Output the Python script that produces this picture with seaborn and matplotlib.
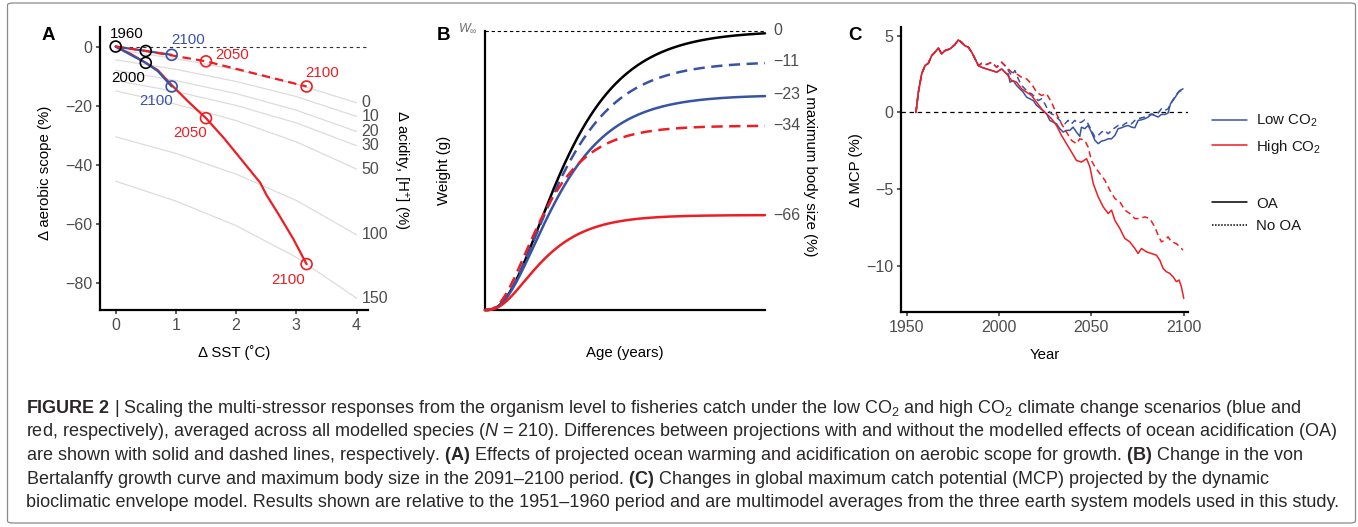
import numpy as np
import pandas as pd
import matplotlib
matplotlib.use("Agg")
import matplotlib.pyplot as plt
import seaborn as sns
from matplotlib.lines import Line2D
from matplotlib.patches import FancyBboxPatch

# ---------------------------------------------------------------- data
# Panel A : aerobic scope vs warming, acidity contours
a_contour_labels = ["0", "10", "20", "30", "50", "100", "150"]
a_contour_x = [0, 1, 2, 3, 4]
a_contour_0 = [-1.0, -4.1, -7.8, -12.7, -19.0]
a_contour_10 = [-4.5, -7.7, -11.8, -16.9, -23.6]
a_contour_20 = [-8.0, -11.5, -15.9, -21.5, -28.7]
a_contour_30 = [-11.5, -15.2, -19.9, -25.8, -33.5]
a_contour_50 = [-15.0, -19.5, -25.0, -32.2, -41.4]
a_contour_100 = [-30.5, -36.1, -43.1, -52.0, -63.6]
a_contour_150 = [-45.5, -52.2, -60.5, -71.2, -85.0]

a_low_oa_sst = [0, 0.25, 0.5, 0.7, 0.93]
a_low_oa_as = [0, -2.8, -5.5, -8.3, -13.5]
a_low_noa_sst = [0, 0.5, 0.93]
a_low_noa_as = [0, -1.5, -2.8]
a_high_oa_sst = [0, 0.25, 0.5, 0.7, 0.93, 1.2, 1.5, 1.8, 2.1, 2.4, 2.5, 2.7, 2.95, 3.17]
a_high_oa_as = [0, -2.5, -5.5, -8.0, -13.0, -18.5, -24.2, -31.0, -38.5, -46.0, -50.0, -56.5, -65.0, -73.5]
a_high_noa_sst = [0, 0.5, 0.93, 1.5, 3.17]
a_high_noa_as = [0, -1.5, -3.0, -5.0, -13.5]

a_hist_pts_sst = [0, 0.5, 0.5]
a_hist_pts_as = [0, -1.5, -5.5]
a_low_pts_sst = [0.93, 0.93]
a_low_pts_as = [-2.8, -13.5]
a_high_pts_sst = [1.5, 3.17, 1.5, 3.17]
a_high_pts_as = [-5.0, -13.5, -24.2, -73.5]

# Panel B : von Bertalanffy growth, change in maximum body size (%)
b_size_change = [0, -11, -23, -34, -66]
b_size_labels = ["0", "\u221211", "\u221223", "\u221234", "\u221266"]
b_growth_k = [0.577, 0.61, 0.632, 0.78, 0.79]

# Panel C : change in maximum catch potential (%)
c_hist_years = [1955.0, 1956.3, 1958.1, 1959.9, 1961.7, 1963.5, 1965.3, 1967.1, 1968.9,
                1970.7, 1973.4, 1976.1, 1977.9, 1979.7, 1981.5, 1983.4, 1985.2, 1987.0, 1988.8]
c_hist_mcp = [0.0, 1.32, 2.52, 3.06, 3.21, 3.71, 3.93, 4.21, 3.82,
              4.04, 4.15, 4.43, 4.73, 4.58, 4.36, 4.26, 3.93, 3.50, 3.06]
c_hist_oa_years = [1990.6, 1993.3, 1996.0, 1998.7, 2001.4, 2004.1]
c_hist_oa_mcp = [2.95, 2.84, 2.74, 2.63, 2.84, 2.52]
c_hist_noa_years = [1990.6, 1993.3, 1996.0, 1998.7, 2001.4, 2004.1]
c_hist_noa_mcp = [3.21, 3.13, 3.28, 2.95, 3.28, 2.95]

c_high_oa_years = [2006.8, 2009.5, 2012.2, 2014.9, 2017.6, 2020.3, 2023.0, 2025.7, 2028.4, 2031.1,
                   2033.8, 2036.5, 2039.2, 2041.9, 2044.6, 2047.4, 2049.2, 2051.0, 2053.7, 2056.4,
                   2059.1, 2060.9, 2062.7, 2065.4, 2068.1, 2070.8, 2073.5, 2075.3, 2077.1, 2079.8,
                   2082.5, 2085.2, 2087.0, 2088.8, 2090.6, 2092.4, 2094.2, 2096.0, 2097.5, 2098.7, 2100.0]
c_high_oa_mcp = [2.08, 1.98, 1.54, 1.32, 1.11, 0.67, 0.24, -0.09, -0.41, -0.85,
                 -1.50, -2.04, -2.58, -3.13, -3.24, -3.02, -3.56, -4.65, -5.52, -6.17,
                 -6.60, -6.38, -7.04, -7.58, -8.23, -8.45, -8.88, -9.21, -8.88, -9.10,
                 -9.21, -9.32, -9.64, -10.18, -10.40, -10.51, -10.73, -11.05, -10.94, -11.38, -12.14]
c_high_noa_years = [2006.8, 2009.5, 2012.2, 2014.9, 2017.6, 2020.3, 2023.0, 2025.7, 2028.4, 2031.1,
                    2033.8, 2036.5, 2039.2, 2041.9, 2043.7, 2046.4, 2048.2, 2050.0, 2051.9, 2054.6,
                    2057.3, 2060.0, 2062.7, 2065.4, 2068.1, 2070.8, 2073.5, 2076.2, 2078.9, 2081.6,
                    2084.3, 2086.1, 2087.9, 2089.7, 2091.5, 2093.3, 2096.0, 2097.8, 2099.6]
c_high_noa_mcp = [2.63, 2.52, 2.30, 2.19, 1.87, 1.32, 1.11, 1.22, 0.67, -0.09,
                  -0.74, -1.28, -1.82, -2.04, -1.72, -1.82, -2.26, -3.13, -3.56, -4.00,
                  -4.43, -5.08, -5.62, -5.84, -6.38, -6.60, -6.93, -6.93, -6.82, -6.93,
                  -7.47, -8.01, -8.45, -8.34, -8.12, -8.45, -8.56, -8.77, -8.99]
c_low_oa_years = [2005.0, 2005.9, 2007.7, 2009.5, 2011.3, 2013.1, 2014.9, 2016.7, 2018.5, 2020.3,
                  2022.1, 2023.9, 2025.7, 2027.5, 2029.3, 2031.1, 2032.9, 2034.7, 2036.5, 2038.3,
                  2040.1, 2041.9, 2043.7, 2044.6, 2046.4, 2048.2, 2050.0, 2051.9, 2053.7, 2055.5,
                  2057.3, 2059.1, 2060.9, 2062.7, 2064.5, 2066.3, 2068.1, 2069.9, 2071.7, 2073.5,
                  2075.3, 2077.1, 2078.9, 2080.7, 2082.5, 2084.3, 2086.1, 2087.9, 2089.7, 2091.5,
                  2092.8, 2094.2, 2096.0, 2097.8, 2099.6]
c_low_oa_mcp = [2.52, 1.98, 2.08, 1.76, 1.54, 1.32, 1.00, 0.89, 0.78, 0.46,
                0.30, 0.09, -0.09, -0.52, -0.63, -0.74, -1.06, -1.28, -1.17, -1.17,
                -0.96, -1.28, -1.56, -0.96, -1.06, -0.85, -1.28, -1.82, -2.04, -1.87,
                -1.82, -1.72, -1.72, -1.50, -1.06, -1.00, -0.91, -0.85, -0.96, -1.00,
                -0.52, -0.48, -0.41, -0.30, -0.13, -0.20, -0.30, -0.13, -0.13, -0.04,
                0.56, 0.78, 1.11, 1.43, 1.54]
c_low_noa_years = [2005.0, 2006.8, 2008.6, 2010.4, 2012.2, 2014.0, 2015.8, 2017.6, 2019.4, 2021.2,
                   2023.0, 2024.8, 2026.6, 2028.4, 2030.2, 2032.0, 2033.8, 2035.6, 2037.4, 2039.2,
                   2041.0, 2042.8, 2044.6, 2046.4, 2048.2, 2050.0, 2051.9, 2053.7, 2055.5, 2057.3,
                   2059.1, 2060.9, 2062.7, 2064.5, 2066.3, 2068.1, 2069.9, 2071.7, 2073.5, 2075.3,
                   2077.1, 2078.9, 2080.7, 2082.5, 2084.3, 2086.1, 2087.9, 2089.7, 2091.5, 2093.3,
                   2095.1, 2096.9, 2098.7]
c_low_noa_mcp = [2.74, 2.41, 2.74, 2.19, 1.76, 1.54, 1.32, 1.22, 1.00, 0.78,
                 0.89, 0.56, 0.13, -0.09, -0.20, -0.41, -0.63, -0.74, -0.52, -0.74,
                 -0.52, -0.69, -0.63, -0.48, -0.74, -1.17, -1.61, -1.50, -1.28, -1.17,
                 -1.39, -1.17, -1.00, -0.85, -0.91, -0.74, -0.63, -0.74, -0.52, -0.41,
                 -0.35, -0.30, -0.20, -0.09, -0.15, -0.04, 0.24, 0.13, 0.24, 0.67,
                 1.00, 1.32, 1.43]

caption_lines = [
    r"$\mathbf{FIGURE\ 2}$ | Scaling the multi-stressor responses from the organism level to fisheries catch under the low CO$_2$ and high CO$_2$ climate change scenarios (blue and",
    r"red, respectively), averaged across all modelled species ($\mathit{N}$ = 210). Differences between projections with and without the modelled effects of ocean acidification (OA)",
    r"are shown with solid and dashed lines, respectively. $\mathbf{(A)}$ Effects of projected ocean warming and acidification on aerobic scope for growth. $\mathbf{(B)}$ Change in the von",
    r"Bertalanffy growth curve and maximum body size in the 2091–2100 period. $\mathbf{(C)}$ Changes in global maximum catch potential (MCP) projected by the dynamic",
    r"bioclimatic envelope model. Results shown are relative to the 1951–1960 period and are multimodel averages from the three earth system models used in this study.",
]

# ---------------------------------------------------------------- style
sns.set_theme(style="ticks")
plt.rcParams["font.family"] = ["Liberation Sans", "DejaVu Sans"]
plt.rcParams["mathtext.fontset"] = "custom"
plt.rcParams["mathtext.rm"] = "Liberation Sans"
plt.rcParams["mathtext.it"] = "Liberation Sans:italic"
plt.rcParams["mathtext.bf"] = "Liberation Sans:bold"
plt.rcParams["mathtext.default"] = "regular"
plt.rcParams["axes.unicode_minus"] = True

BLUE = "#3953A4"
RED = "#EE1D23"
GRID = "#DCDCDC"
TICKC = "#4D4D4D"
FS = 10.8
TFS = 11.5

W, H = 1358, 527
fig = plt.figure(figsize=(W / 100, H / 100), dpi=100)
fig.patch.set_facecolor("white")


def rect(l, t, r, b):
    return [l / W, 1 - b / H, (r - l) / W, (b - t) / H]


def style_axes(ax, ticks=True):
    for s in ["top", "right"]:
        ax.spines[s].set_visible(False)
    for s in ["left", "bottom"]:
        ax.spines[s].set_linewidth(1.6)
        ax.spines[s].set_color("black")
    ax.set_facecolor("none")
    if ticks:
        ax.tick_params(direction="out", length=3.2, width=1.1, color="#333333",
                       labelsize=TFS, labelcolor=TICKC, pad=2.5)
    else:
        ax.set_xticks([])
        ax.set_yticks([])


axA = fig.add_axes(rect(100, 27, 368, 310))
axB = fig.add_axes(rect(485, 30.7, 765, 310))
axC = fig.add_axes(rect(901, 26.7, 1188, 312.3))

# ---------------------------------------------------------------- Panel A
axA.set_xlim(-0.26, 4.19)
axA.set_ylim(-89, 6.6)
contours = [a_contour_0, a_contour_10, a_contour_20, a_contour_30,
            a_contour_50, a_contour_100, a_contour_150]
for lab, vals in zip(a_contour_labels, contours):
    sns.lineplot(x=a_contour_x, y=vals, ax=axA, color=GRID, linewidth=0.9,
                 estimator=None, sort=False, zorder=1)
    axA.annotate(lab, xy=(a_contour_x[-1], vals[-1]), xytext=(5, 0),
                 textcoords="offset pixels", ha="left", va="center",
                 fontsize=TFS, color=TICKC, annotation_clip=False)

x0, x1 = axA.get_xlim()
axA.axhline(0, xmin=(0 - x0) / (x1 - x0), xmax=1, color="#333333", lw=0.8,
            ls=(0, (3, 3)), zorder=2)

dash_a = (0, (3.8, 2.3))
sns.lineplot(x=a_high_oa_sst, y=a_high_oa_as, ax=axA, color=RED, linewidth=1.6,
             estimator=None, sort=False, zorder=3)
sns.lineplot(x=a_low_oa_sst, y=a_low_oa_as, ax=axA, color=BLUE, linewidth=1.6,
             estimator=None, sort=False, zorder=3)
sns.lineplot(x=a_low_noa_sst, y=a_low_noa_as, ax=axA, color=BLUE, linewidth=1.6,
             estimator=None, sort=False, zorder=3)
sns.lineplot(x=a_high_noa_sst, y=a_high_noa_as, ax=axA, color=RED, linewidth=1.6,
             linestyle=dash_a, estimator=None, sort=False, zorder=3)

for xs, ys, c in [(a_hist_pts_sst, a_hist_pts_as, "black"),
                  (a_low_pts_sst, a_low_pts_as, BLUE),
                  (a_high_pts_sst, a_high_pts_as, RED)]:
    sns.scatterplot(x=xs, y=ys, ax=axA, color=c, facecolor="none", edgecolor=c,
                    s=62, linewidth=1.2, zorder=5, clip_on=False)

point_labels = [
    ("1960", a_hist_pts_sst[0], a_hist_pts_as[0], (11, 13), "black"),
    ("2000", a_hist_pts_sst[2], a_hist_pts_as[2], (-18, -15), "black"),
    ("2100", a_low_pts_sst[0], a_low_pts_as[0], (16, 15), BLUE),
    ("2100", a_low_pts_sst[1], a_low_pts_as[1], (-16, -14), BLUE),
    ("2050", a_high_pts_sst[0], a_high_pts_as[0], (26, 6), RED),
    ("2100", a_high_pts_sst[1], a_high_pts_as[1], (16, 14), RED),
    ("2050", a_high_pts_sst[2], a_high_pts_as[2], (-16, -15), RED),
    ("2100", a_high_pts_sst[3], a_high_pts_as[3], (-18, -16), RED),
]
for txt, x, y, off, c in point_labels:
    axA.annotate(txt, xy=(x, y), xytext=off, textcoords="offset pixels",
                 ha="center", va="center", fontsize=FS, color=c, zorder=6)

axA.set_xticks([0, 1, 2, 3, 4])
axA.set_yticks([0, -20, -40, -60, -80])
style_axes(axA)
axA.set_xlabel("\u0394 SST (\u02daC)", fontsize=FS, color="black")
axA.set_ylabel("\u0394 aerobic scope (%)", fontsize=FS, color="black")
axA.xaxis.set_label_coords(0.5, (310 - 353) / 283)
axA.xaxis.label.set_va("center")
axA.yaxis.set_label_coords((45 - 100) / 268, (310 - 173) / 283)
axA.yaxis.label.set_va("center")
axA.text((400 - 100) / 268, (310 - 170) / 283, "\u0394 acidity, [H$^{+}$] (%)",
         transform=axA.transAxes, rotation=270, ha="center", va="center",
         fontsize=FS, color="black")

# ---------------------------------------------------------------- Panel B
axB.set_xlim(0, 10)
axB.set_ylim(0, 1)
age = np.linspace(0, 10, 400)
b_colors = ["black", BLUE, BLUE, RED, RED]
b_dashed = [False, True, False, True, False]
dash_b = (0, (4.5, 2.6))
for chg, k, c, d, lab in zip(b_size_change, b_growth_k, b_colors, b_dashed, b_size_labels):
    winf = 1 + chg / 100.0
    weight = winf * (1 - np.exp(-k * age)) ** 3
    sns.lineplot(x=age, y=weight, ax=axB, color=c, linewidth=1.8,
                 linestyle=dash_b if d else "-", estimator=None, sort=False,
                 zorder=3, clip_on=False)
    axB.annotate(lab, xy=(10, winf), xytext=(8, 0), textcoords="offset pixels",
                 ha="left", va="center", fontsize=TFS, color=TICKC,
                 annotation_clip=False)
axB.axhline(1, color="black", lw=0.8, ls=(0, (3, 2.5)), clip_on=False, zorder=2)
axB.annotate(r"$\mathit{W}_{\infty}$", xy=(0, 1), xytext=(-7, 2), textcoords="offset pixels",
             ha="right", va="center", fontsize=9, color="#6D6D6D",
             annotation_clip=False)
style_axes(axB, ticks=False)
axB.set_xlabel("Age (years)", fontsize=FS, color="black")
axB.set_ylabel("Weight (g)", fontsize=FS, color="black")
axB.xaxis.set_label_coords(0.5, (310 - 353) / 279.3)
axB.xaxis.label.set_va("center")
axB.yaxis.set_label_coords((444 - 485) / 280, (310 - 170) / 279.3)
axB.yaxis.label.set_va("center")
axB.text((810 - 485) / 280, (310 - 170) / 279.3, "\u0394 maximum body size (%)",
         transform=axB.transAxes, rotation=270, ha="center", va="center",
         fontsize=FS, color="black")

# ---------------------------------------------------------------- Panel C
axC.set_xlim(1946.9, 2102.3)
axC.set_ylim(-13.05, 5.6)
axC.axhline(0, color="black", lw=0.9, ls=(0, (3.5, 3)), zorder=1)

hist_oa_y = c_hist_years + c_hist_oa_years
hist_oa_v = c_hist_mcp + c_hist_oa_mcp
hist_noa_y = c_hist_years + c_hist_noa_years
hist_noa_v = c_hist_mcp + c_hist_noa_mcp
dash_c = (0, (4, 2.6))
series = [
    (hist_noa_y + c_low_noa_years, hist_noa_v + c_low_noa_mcp, BLUE, dash_c),
    (hist_oa_y + c_low_oa_years, hist_oa_v + c_low_oa_mcp, BLUE, "-"),
    (hist_noa_y + c_high_noa_years, hist_noa_v + c_high_noa_mcp, RED, dash_c),
    (hist_oa_y + c_high_oa_years, hist_oa_v + c_high_oa_mcp, RED, "-"),
]
for yrs, vals, c, ls in series:
    df = pd.DataFrame({"Year": yrs, "MCP": vals})
    sns.lineplot(data=df, x="Year", y="MCP", ax=axC, color=c, linewidth=1.1,
                 linestyle=ls, estimator=None, sort=False, zorder=3)

axC.set_xticks([1950, 2000, 2050, 2100])
axC.set_yticks([5, 0, -5, -10])
style_axes(axC)
axC.set_xlabel("Year", fontsize=FS, color="black")
axC.set_ylabel("\u0394 MCP (%)", fontsize=FS, color="black")
axC.xaxis.set_label_coords((1045 - 901) / 287, (312.3 - 355) / 285.6)
axC.xaxis.label.set_va("center")
axC.yaxis.set_label_coords((856 - 901) / 287, (312.3 - 170) / 285.6)
axC.yaxis.label.set_va("center")

leg_kw = dict(loc="center left", bbox_transform=fig.transFigure, frameon=False,
              handlelength=2.3, handletextpad=0.65, borderpad=0, borderaxespad=0,
              labelspacing=0.55, fontsize=FS)
h1 = [Line2D([], [], color=BLUE, lw=1.1), Line2D([], [], color=RED, lw=1.1)]
leg1 = axC.legend(h1, ["Low CO$_2$", "High CO$_2$"],
                  bbox_to_anchor=(1212 / W, 1 - 134.4 / H), **leg_kw)
axC.add_artist(leg1)
h2 = [Line2D([], [], color="black", lw=1.1),
      Line2D([], [], color="black", lw=1.1, ls=(0, (1, 1)))]
leg2 = axC.legend(h2, ["OA", "No OA"], bbox_to_anchor=(1212 / W, 1 - 214.7 / H), **leg_kw)
for lg in (leg1, leg2):
    for t in lg.get_texts():
        t.set_color("#1A1A1A")

# ---------------------------------------------------------------- panel letters
for letter, (px, py) in zip("ABC", [(48, 35), (443, 36), (855, 36)]):
    fig.text(px / W, 1 - py / H, letter, fontsize=13.5, fontweight="bold",
             ha="center", va="center", color="black")

# ---------------------------------------------------------------- caption + frame
frame = FancyBboxPatch((7.5 / W, 1 - 523 / H), (1355.5 - 7.5) / W, 520 / H,
                       boxstyle="round,pad=0,rounding_size=0.004",
                       transform=fig.transFigure, fc="none", ec="#8A8A8A", lw=0.9)
fig.patches.append(frame)

baselines = [413, 436.5, 460, 483.5, 507]
cap_texts = []
for s, b in zip(caption_lines, baselines):
    cap_texts.append(fig.text(26 / W, 1 - b / H, s, fontsize=12, color="#2A2728",
                              ha="left", va="baseline"))
renderer = fig.canvas.get_renderer()
w_last = cap_texts[-1].get_window_extent(renderer=renderer).width
scale = 1312.0 / w_last
for t in cap_texts:
    t.set_fontsize(12 * scale)

fig.savefig("out.png", dpi=100, facecolor="white")
